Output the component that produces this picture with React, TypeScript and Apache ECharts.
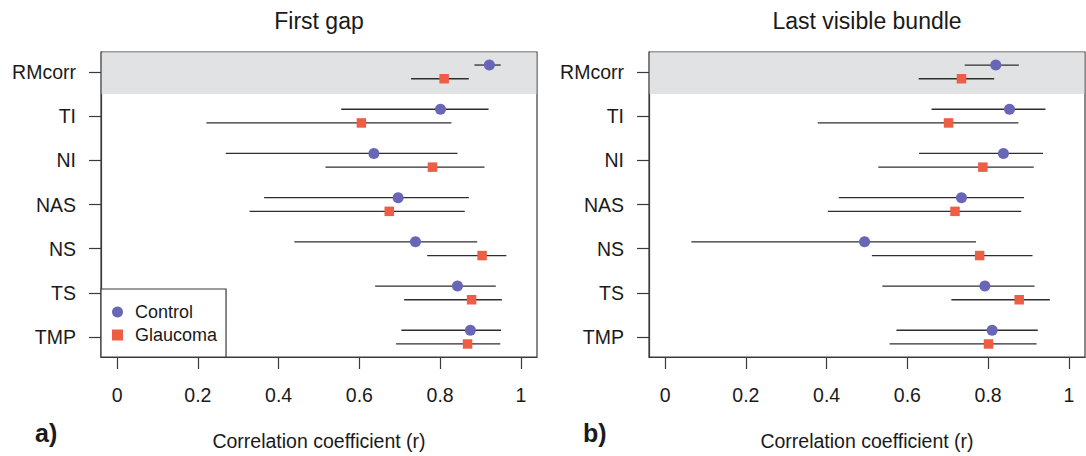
import React, { useEffect, useRef } from "react";
import * as echarts from "echarts";

// Regions of the retina, top to bottom
const categories = ["RMcorr", "TI", "NI", "NAS", "NS", "TS", "TMP"];

// First gap: correlation and 95% interval per region
const controlFirst = [0.922, 0.801, 0.636, 0.696, 0.739, 0.843, 0.875];
const controlFirstLo = [0.885, 0.555, 0.269, 0.364, 0.439, 0.639, 0.704];
const controlFirstHi = [0.95, 0.92, 0.843, 0.871, 0.892, 0.938, 0.951];
const glaucomaFirst = [0.81, 0.605, 0.781, 0.674, 0.904, 0.878, 0.868];
const glaucomaFirstLo = [0.728, 0.221, 0.516, 0.328, 0.768, 0.711, 0.691];
const glaucomaFirstHi = [0.871, 0.828, 0.91, 0.861, 0.964, 0.953, 0.949];

// Last visible bundle
const controlLast = [0.819, 0.853, 0.838, 0.734, 0.494, 0.792, 0.81];
const controlLastLo = [0.742, 0.66, 0.629, 0.43, 0.065, 0.538, 0.573];
const controlLastHi = [0.876, 0.942, 0.936, 0.889, 0.77, 0.915, 0.923];
const glaucomaLast = [0.734, 0.702, 0.787, 0.718, 0.779, 0.877, 0.801];
const glaucomaLastLo = [0.628, 0.378, 0.528, 0.403, 0.512, 0.709, 0.556];
const glaucomaLastHi = [0.815, 0.875, 0.913, 0.882, 0.91, 0.953, 0.92];

const xTicks = [0, 0.2, 0.4, 0.6, 0.8, 1];
const xTickLabels = ["0", "0.2", "0.4", "0.6", "0.8", "1"];

const panelTitles = ["First gap", "Last visible bundle"];
const panelTags = ["a)", "b)"];
const xAxisTitle = "Correlation coefficient (r)";

const FONT = '"Liberation Sans", Arial, Helvetica, sans-serif';
const INK = "#1a1a1a";
const FRAME = "#3a3a3a";
const CONTROL_COLOR = "#6866b6";
const GLAUCOMA_COLOR = "#ee5e45";
const BAND_COLOR = "#e1e2e4";

const X_MIN = -0.04;
const X_MAX = 1.04;
const Y_MIN = 0.55;
const Y_MAX = 7.45;
const OFFSET = 0.155;
const BAND_END = 1.5;

const GRID_TOP = 52;
const GRID_W = 436;
const GRID_H = 305;
const gridLefts = [101, 649];

const yTicks = categories.map((_, i) => i + 1);

function errorBarSeries(name, lo, hi, shift, idx) {
  return {
    name,
    type: "custom",
    xAxisIndex: idx,
    yAxisIndex: idx,
    z: 2,
    silent: true,
    encode: { x: [0, 1], y: 2 },
    data: lo.map((l, i) => [l, hi[i], i + 1 + shift]),
    renderItem: (params, api) => {
      const y = api.value(2);
      const a = api.coord([api.value(0), y]);
      const b = api.coord([api.value(1), y]);
      return {
        type: "line",
        shape: { x1: a[0], y1: a[1], x2: b[0], y2: b[1] },
        style: { stroke: "#2e2e2e", lineWidth: 1.3 },
      };
    },
  };
}

function pointSeries(name, values, shift, idx, symbol, size, color) {
  return {
    name,
    type: "scatter",
    xAxisIndex: idx,
    yAxisIndex: idx,
    z: 3,
    symbol,
    symbolSize: size,
    itemStyle: { color, opacity: 1 },
    data: values.map((v, i) => [v, i + 1 + shift]),
  };
}

function bandSeries(idx) {
  return {
    name: "band",
    type: "custom",
    xAxisIndex: idx,
    yAxisIndex: idx,
    z: 1,
    silent: true,
    encode: { x: [0, 2], y: [1, 3] },
    data: [[X_MIN, Y_MIN, X_MAX, BAND_END]],
    renderItem: (params, api) => {
      const tl = api.coord([api.value(0), api.value(1)]);
      const br = api.coord([api.value(2), api.value(3)]);
      return {
        type: "rect",
        shape: {
          x: tl[0] + 0.6,
          y: tl[1] + 0.6,
          width: br[0] - tl[0] - 1.2,
          height: br[1] - tl[1] - 0.6,
        },
        style: { fill: BAND_COLOR },
      };
    },
  };
}

export default function App() {
  const ref = useRef(null);

  useEffect(() => {
    const chart = echarts.init(ref.current, null, { renderer: "svg" });

    const panels = [
      {
        c: controlFirst, cLo: controlFirstLo, cHi: controlFirstHi,
        g: glaucomaFirst, gLo: glaucomaFirstLo, gHi: glaucomaFirstHi,
      },
      {
        c: controlLast, cLo: controlLastLo, cHi: controlLastHi,
        g: glaucomaLast, gLo: glaucomaLastLo, gHi: glaucomaLastHi,
      },
    ];

    const grid = gridLefts.map((left) => ({
      left,
      top: GRID_TOP,
      width: GRID_W,
      height: GRID_H,
      show: true,
      borderColor: FRAME,
      borderWidth: 1.2,
      backgroundColor: "transparent",
    }));

    const xAxis = gridLefts.map((_, idx) => ({
      type: "value",
      gridIndex: idx,
      min: X_MIN,
      max: X_MAX,
      axisLine: { show: true, onZero: false, lineStyle: { color: FRAME, width: 1.2 } },
      axisTick: {
        show: true,
        length: 12,
        customValues: xTicks,
        lineStyle: { color: FRAME, width: 1.2 },
      },
      axisLabel: {
        customValues: xTicks,
        formatter: (v) => xTickLabels[xTicks.findIndex((t) => Math.abs(t - v) < 1e-9)] ?? "",
        margin: 28,
        fontSize: 19.5,
        fontFamily: FONT,
        color: INK,
      },
      splitLine: { show: false },
    }));

    const yAxis = gridLefts.map((_, idx) => ({
      type: "value",
      gridIndex: idx,
      inverse: true,
      min: Y_MIN,
      max: Y_MAX,
      axisLine: { show: true, onZero: false, lineStyle: { color: FRAME, width: 1.2 } },
      axisTick: {
        show: true,
        length: 12,
        customValues: yTicks,
        lineStyle: { color: FRAME, width: 1.2 },
      },
      axisLabel: {
        customValues: yTicks,
        formatter: (v) => categories[Math.round(v) - 1] ?? "",
        margin: 25,
        fontSize: 19.5,
        fontFamily: FONT,
        color: INK,
      },
      splitLine: { show: false },
    }));

    const series = [];
    panels.forEach((p, idx) => {
      series.push(bandSeries(idx));
      series.push(errorBarSeries("Control interval", p.cLo, p.cHi, -OFFSET, idx));
      series.push(errorBarSeries("Glaucoma interval", p.gLo, p.gHi, OFFSET, idx));
      series.push(pointSeries("Control", p.c, -OFFSET, idx, "circle", 11, CONTROL_COLOR));
      series.push(pointSeries("Glaucoma", p.g, OFFSET, idx, "rect", 9.5, GLAUCOMA_COLOR));
    });

    const graphic = [];
    gridLefts.forEach((left, idx) => {
      const cx = left + GRID_W / 2;
      graphic.push({
        type: "text",
        x: cx,
        y: 21,
        style: {
          text: panelTitles[idx],
          fontSize: 23,
          fontFamily: FONT,
          fill: INK,
          align: "center",
          verticalAlign: "middle",
          textAlign: "center",
          textVerticalAlign: "middle",
        },
      });
      graphic.push({
        type: "text",
        x: cx,
        y: 441,
        style: {
          text: xAxisTitle,
          fontSize: 19.5,
          fontFamily: FONT,
          fill: INK,
          align: "center",
          verticalAlign: "middle",
          textAlign: "center",
          textVerticalAlign: "middle",
        },
      });
      graphic.push({
        type: "text",
        x: left - 66,
        y: 433,
        style: {
          text: panelTags[idx],
          fontSize: 25,
          fontWeight: "bold",
          fontFamily: FONT,
          fill: INK,
          align: "left",
          verticalAlign: "middle",
          textAlign: "left",
          textVerticalAlign: "middle",
        },
      });
    });

    chart.setOption({
      animation: false,
      grid,
      xAxis,
      yAxis,
      series,
      graphic,
      legend: {
        data: [
          { name: "Control", icon: "circle" },
          { name: "Glaucoma", icon: "rect" },
        ],
        orient: "vertical",
        left: 101,
        top: 289,
        padding: [14, 9, 13, 11],
        itemGap: 5,
        itemWidth: 11,
        itemHeight: 11,
        backgroundColor: "#ffffff",
        borderColor: FRAME,
        borderWidth: 1.2,
        borderRadius: 0,
        selectedMode: false,
        z: 5,
        textStyle: {
          fontSize: 18,
          lineHeight: 18,
          fontFamily: FONT,
          color: INK,
          padding: [0, 0, 0, 7],
        },
      },
    });

    return () => chart.dispose();
  }, []);

  return (
    <div
      ref={ref}
      style={{ position: "fixed", left: 0, top: 0, width: 1086, height: 456, background: "#fff" }}
    />
  );
}
